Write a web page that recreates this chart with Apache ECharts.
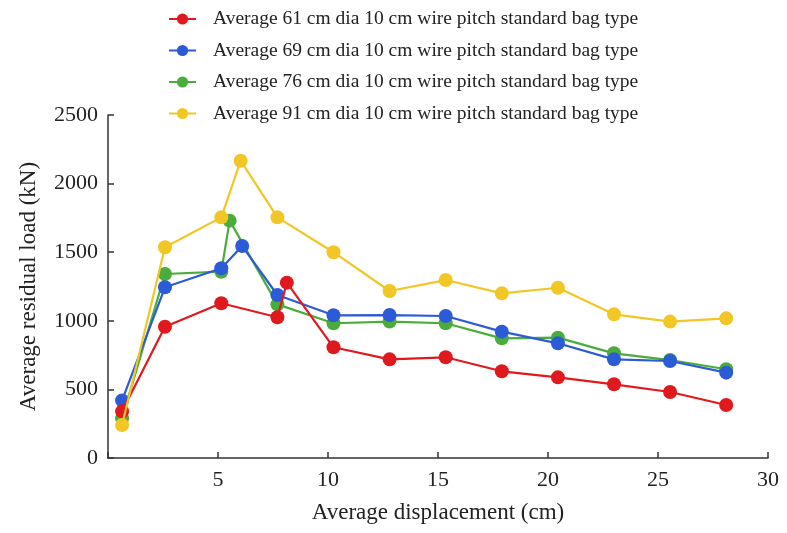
<!DOCTYPE html>
<html>
<head>
<meta charset="utf-8">
<script src="https://cdn.jsdelivr.net/npm/echarts@6/dist/echarts.min.js"></script>
<style>
  html, body { margin: 0; padding: 0; background: #fff; }
  #chart { width: 787px; height: 533px; }
</style>
</head>
<body>
<div id="chart"></div>
<script>
// Series names
const seriesNames = [
  'Average 61 cm dia 10 cm wire pitch standard bag type',
  'Average 69 cm dia 10 cm wire pitch standard bag type',
  'Average 76 cm dia 10 cm wire pitch standard bag type',
  'Average 91 cm dia 10 cm wire pitch standard bag type'
];

// Displacement (cm) for each series
const x61 = [0.64, 2.59, 5.15, 7.70, 8.13, 10.25, 12.80, 15.35, 17.90, 20.45, 23.00, 25.55, 28.10];
const x69 = [0.64, 2.59, 5.15, 6.10, 7.70, 10.25, 12.80, 15.35, 17.90, 20.45, 23.00, 25.55, 28.10];
const x76 = [0.64, 2.59, 5.15, 5.53, 7.70, 10.25, 12.80, 15.35, 17.90, 20.45, 23.00, 25.55, 28.10];
const x91 = [0.64, 2.59, 5.15, 6.03, 7.70, 10.25, 12.80, 15.35, 17.90, 20.45, 23.00, 25.55, 28.10];

// Residual load (kN)
const y61 = [340, 957, 1128, 1026, 1278, 807, 719, 734, 632, 588, 537, 481, 386];
const y69 = [420, 1244, 1383, 1545, 1188, 1040, 1042, 1035, 921, 836, 719, 707, 622];
const y76 = [289, 1341, 1358, 1730, 1120, 982, 994, 982, 872, 877, 763, 714, 647];
const y91 = [241, 1536, 1754, 2167, 1754, 1500, 1217, 1297, 1200, 1241, 1047, 994, 1018];

// Axis ticks
const xTicks = [5, 10, 15, 20, 25, 30];
const yTicks = [0, 500, 1000, 1500, 2000, 2500];

const colors = ['#e0191f', '#2c5bd8', '#4aad3b', '#f2c624'];
// Stacking order of the series (higher is drawn on top)
const layer = [4, 3, 2, 5];
const xs = [x61, x69, x76, x91];
const ys = [y61, y69, y76, y91];

const serif = '"Liberation Serif", "DejaVu Serif", serif';
const axisColor = '#333';

const chart = echarts.init(document.getElementById('chart'), null, { renderer: 'canvas' });

const series = seriesNames.map((name, i) => ({
  name: name,
  type: 'line',
  data: xs[i].map((v, k) => [v, ys[i][k]]),
  symbol: 'circle',
  symbolSize: 14,
  color: colors[i],
  lineStyle: { width: 2.2, color: colors[i] },
  itemStyle: { color: colors[i] },
  z: layer[i],
  animation: false
}));

chart.setOption({
  backgroundColor: '#fff',
  animation: false,
  legend: {
    orient: 'vertical',
    left: 163,
    top: 4,
    itemGap: 11.5,
    itemWidth: 27,
    itemHeight: 14,
    data: seriesNames,
    textStyle: { fontFamily: serif, fontSize: 19.5, color: '#222', padding: [0, 0, 0, 12] }
  },
  grid: { left: 108, right: 19, top: 115, bottom: 75, containLabel: false },
  xAxis: {
    type: 'value',
    min: 0,
    max: 30,
    interval: 5,
    name: 'Average displacement (cm)',
    nameLocation: 'middle',
    nameGap: 43,
    nameTextStyle: { fontFamily: serif, fontSize: 23, color: '#222' },
    axisLine: { show: true, lineStyle: { color: axisColor, width: 1.5 } },
    axisTick: { show: true, inside: true, length: 6, lineStyle: { color: axisColor, width: 1.5 } },
    axisLabel: {
      fontFamily: serif, fontSize: 22, color: '#222', margin: 11,
      formatter: v => (xTicks.indexOf(v) >= 0 ? String(v) : '')
    },
    splitLine: { show: false }
  },
  yAxis: {
    type: 'value',
    min: 0,
    max: 2500,
    interval: 500,
    name: 'Average residual load (kN)',
    nameLocation: 'middle',
    nameGap: 68,
    nameTextStyle: { fontFamily: serif, fontSize: 23, color: '#222' },
    axisLine: { show: true, lineStyle: { color: axisColor, width: 1.5 } },
    axisTick: { show: true, inside: true, length: 6, lineStyle: { color: axisColor, width: 1.5 } },
    axisLabel: {
      fontFamily: serif, fontSize: 22, color: '#222', margin: 10,
      formatter: v => (yTicks.indexOf(v) >= 0 ? String(v) : '')
    },
    splitLine: { show: false }
  },
  series: series
});
</script>
</body>
</html>
